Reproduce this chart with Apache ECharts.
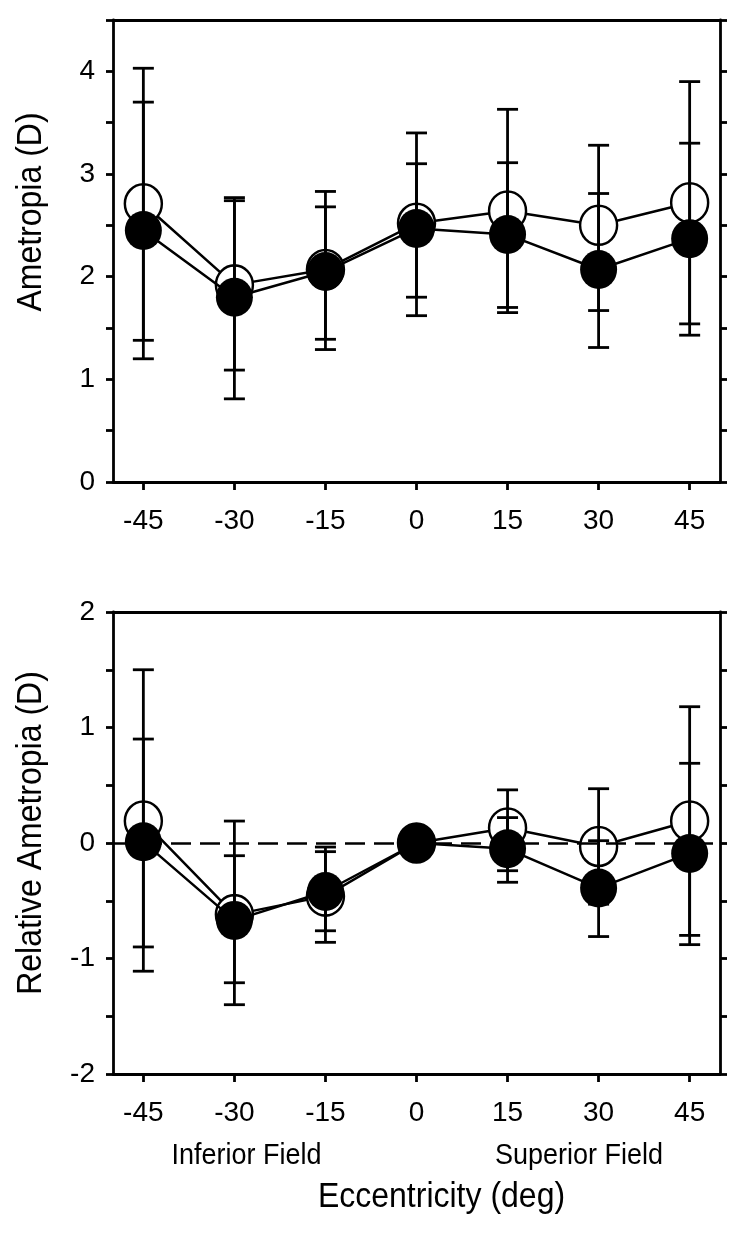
<!DOCTYPE html>
<html>
<head>
<meta charset="utf-8">
<script src="https://cdn.jsdelivr.net/npm/echarts@6/dist/echarts.min.js"></script>
<style>
html,body{margin:0;padding:0;background:#fff;}
#chart{width:750px;height:1237px;}
</style>
</head>
<body>
<div id="chart"></div>
<script>
// ---- data ----
const eccentricity = [-45, -30, -15, 0, 15, 30, 45];
const xTickLabels = [-45, -30, -15, 0, 15, 30, 45];

// Top panel: Ametropia (D)
const topOpen       = [2.71, 1.92, 2.07, 2.52, 2.64, 2.50, 2.72];
const topOpenLow    = [1.38, 1.09, 1.29, 1.62, 1.65, 1.67, 1.54];
const topOpenHigh   = [4.03, 2.77, 2.83, 3.40, 3.63, 3.28, 3.90];
const topFilled     = [2.45, 1.80, 2.05, 2.47, 2.41, 2.07, 2.37];
const topFilledLow  = [1.20, 0.81, 1.39, 1.80, 1.70, 1.31, 1.43];
const topFilledHigh = [3.70, 2.74, 2.68, 3.10, 3.11, 2.81, 3.30];
const topYLabels = [0, 1, 2, 3, 4];
const topYTicks  = [0, 0.5, 1, 1.5, 2, 2.5, 3, 3.5, 4, 4.5];

// Bottom panel: Relative Ametropia (D)
const botOpen       = [0.19, -0.62, -0.46, 0, 0.13, -0.03, 0.19];
const botOpenLow    = [-1.11, -1.40, -0.86, null, -0.24, -0.53, -0.80];
const botOpenHigh   = [1.50, 0.19, -0.035, null, 0.46, 0.47, 1.18];
const botFilled     = [0.01, -0.67, -0.42, 0, -0.05, -0.39, -0.09];
const botFilledLow  = [-0.90, -1.21, -0.76, null, -0.34, -0.81, -0.88];
const botFilledHigh = [0.90, -0.11, -0.075, null, 0.22, 0.02, 0.69];
const botYLabels = [-2, -1, 0, 1, 2];
const botYTicks  = [-2, -1.5, -1, -0.5, 0, 0.5, 1, 1.5, 2];

// ---- build ----
const FONT = "'Liberation Sans', Arial, Helvetica, sans-serif";
const AXW = 2.8;
const pts = (ys) => eccentricity.map((x, i) => [x, ys[i]]);
const bars = (lo, hi) => eccentricity.map((x, i) => [x, lo[i], hi[i]]).filter(d => d[1] != null && d[2] != null);

function xAxes(gi) {
  return [
    {
      type: 'value', gridIndex: gi, position: 'bottom', min: -50, max: 50,
      axisLine: {show: true, onZero: false, lineStyle: {color: '#000', width: AXW}},
      axisTick: {show: true, inside: false, length: 8, customValues: xTickLabels, lineStyle: {color: '#000', width: AXW}},
      axisLabel: {show: true, customValues: xTickLabels, margin: 25, color: '#000', fontSize: 28, fontFamily: FONT},
      splitLine: {show: false}
    },
    {
      type: 'value', gridIndex: gi, position: 'top', min: -50, max: 50,
      axisLine: {show: true, onZero: false, lineStyle: {color: '#000', width: AXW}},
      axisTick: {show: false}, axisLabel: {show: false}, splitLine: {show: false}
    }
  ];
}
function yAxes(gi, min, max, labels, ticks) {
  return [
    {
      type: 'value', gridIndex: gi, position: 'left', min: min, max: max,
      axisLine: {show: true, onZero: false, lineStyle: {color: '#000', width: AXW}},
      axisTick: {show: true, inside: false, length: 7, customValues: ticks, lineStyle: {color: '#000', width: AXW}},
      axisLabel: {show: true, customValues: labels, margin: 18, color: '#000', fontSize: 28, fontFamily: FONT},
      splitLine: {show: false}
    },
    {
      type: 'value', gridIndex: gi, position: 'right', min: min, max: max,
      axisLine: {show: true, onZero: false, lineStyle: {color: '#000', width: AXW}},
      axisTick: {show: true, inside: false, length: 7, customValues: ticks, lineStyle: {color: '#000', width: AXW}},
      axisLabel: {show: false}, splitLine: {show: false}
    }
  ];
}

function errSeries(xi, yi, data) {
  return {
    type: 'custom', xAxisIndex: xi, yAxisIndex: yi, z: 3, silent: true,
    encode: {x: 0, y: [1, 2]},
    data: data,
    renderItem: function (params, api) {
      const x = api.value(0);
      const lo = api.coord([x, api.value(1)]);
      const hi = api.coord([x, api.value(2)]);
      const hw = 10.5;
      const st = {stroke: '#000', lineWidth: 2.8, fill: null};
      return {
        type: 'group',
        children: [
          {type: 'line', shape: {x1: lo[0], y1: lo[1], x2: hi[0], y2: hi[1]}, style: st},
          {type: 'line', shape: {x1: lo[0] - hw, y1: lo[1], x2: lo[0] + hw, y2: lo[1]}, style: st},
          {type: 'line', shape: {x1: hi[0] - hw, y1: hi[1], x2: hi[0] + hw, y2: hi[1]}, style: st}
        ]
      };
    }
  };
}
function lineSeries(xi, yi, data, filled) {
  return {
    type: 'line', xAxisIndex: xi, yAxisIndex: yi, z: filled ? 4 : 2, silent: true,
    data: data, symbol: 'circle', symbolSize: [37, 39], showSymbol: true,
    lineStyle: {color: '#000', width: 2.5},
    itemStyle: filled ? {color: '#000', borderColor: '#000', borderWidth: 0}
                      : {color: '#fff', borderColor: '#000', borderWidth: 2.5},
    emphasis: {disabled: true}
  };
}

function label(text, x, y, size, rot) {
  return {type: 'text', x: x, y: y, rotation: rot || 0, scaleY: 1.08,
    style: {text: text, fontSize: size, fontFamily: FONT, fill: '#000', align: 'center', verticalAlign: 'middle'}};
}

const option = {
  animation: false,
  backgroundColor: '#fff',
  grid: [
    {left: 113, top: 20, width: 607, height: 462},
    {left: 113, top: 612, width: 607, height: 462}
  ],
  xAxis: [...xAxes(0), ...xAxes(1)],
  yAxis: [...yAxes(0, 0, 4.5, topYLabels, topYTicks), ...yAxes(1, -2, 2, botYLabels, botYTicks)],
  series: [
    // top panel
    lineSeries(0, 0, pts(topOpen), false),
    errSeries(0, 0, bars(topOpenLow, topOpenHigh)),
    errSeries(0, 0, bars(topFilledLow, topFilledHigh)),
    lineSeries(0, 0, pts(topFilled), true),
    // bottom panel
    {
      type: 'line', xAxisIndex: 2, yAxisIndex: 2, z: 1, silent: true, data: [],
      markLine: {
        silent: true, symbol: 'none', label: {show: false},
        lineStyle: {color: '#000', width: 2.5, type: [20, 9]},
        data: [{yAxis: 0}]
      }
    },
    lineSeries(2, 2, pts(botOpen), false),
    errSeries(2, 2, bars(botOpenLow, botOpenHigh)),
    errSeries(2, 2, bars(botFilledLow, botFilledHigh)),
    lineSeries(2, 2, pts(botFilled), true)
  ],
  graphic: [
    label('Ametropia (D)', 31, 212, 32, Math.PI / 2),
    label('Relative Ametropia (D)', 31, 833, 32, Math.PI / 2),
    label('Inferior Field', 246.5, 1156, 27),
    label('Superior Field', 579, 1156, 27),
    label('Eccentricity (deg)', 441.5, 1197, 32)
  ]
};

const chart = echarts.init(document.getElementById('chart'), null, {renderer: 'canvas'});
chart.setOption(option);
</script>
</body>
</html>
